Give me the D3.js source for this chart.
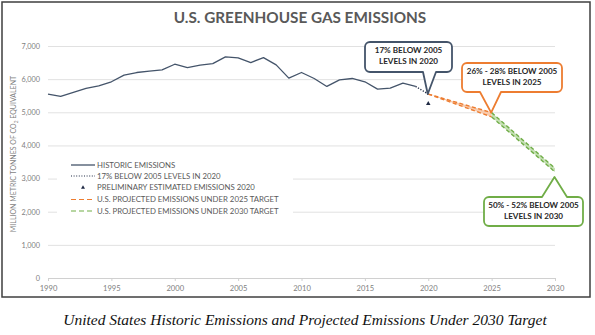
<!DOCTYPE html>
<html><head><meta charset="utf-8">
<script src="https://cdn.jsdelivr.net/npm/d3@7"></script>
<style>
html,body{margin:0;padding:0;background:#fff;}
svg{display:block;}
</style></head>
<body>
<svg id="chart" width="595" height="335"></svg>
<script>
// ---- data ----
const historicYears = [1990,1991,1992,1993,1994,1995,1996,1997,1998,1999,2000,2001,2002,2003,2004,2005,2006,2007,2008,2009,2010,2011,2012,2013,2014,2015,2016,2017,2018,2019];
const historicValues = [5550,5480,5600,5720,5800,5920,6120,6200,6240,6280,6450,6350,6420,6470,6670,6640,6500,6650,6430,6030,6200,6020,5780,5980,6020,5920,5700,5730,5880,5780];
const target2020Years = [2019,2020];
const target2020Values = [5780,5550];
const prelimYear = [2020];
const prelimValue = [5260];
const proj2025Years = [2020,2025];
const proj2025High = [5550,4990];
const proj2025Low = [5550,4860];
const proj2030Years = [2025,2030];
const proj2030High = [4990,3310];
const proj2030Low = [4860,3200];
const xTicks = [1990,1995,2000,2005,2010,2015,2020,2025,2030];
const yTicks = [0,1000,2000,3000,4000,5000,6000,7000];
const legendLabels = ["HISTORIC EMISSIONS","17% BELOW 2005 LEVELS IN 2020","PRELIMINARY ESTIMATED EMISSIONS 2020","U.S. PROJECTED EMISSIONS UNDER 2025 TARGET","U.S. PROJECTED EMISSIONS UNDER 2030 TARGET"];
const titleText = "U.S. GREENHOUSE GAS EMISSIONS";
const captionText = "United States Historic Emissions and Projected Emissions Under 2030 Target";

// ---- layout ----
const svg = d3.select("#chart");
const font = "Lato, 'Open Sans', sans-serif";
const L = 48, R = 555, T = 46, B = 278;
const x = d3.scaleLinear([1990,2030],[L,R]);
const y = d3.scaleLinear([0,7000],[B,T]);

// outer frame
svg.append("rect").attr("x",2).attr("y",2).attr("width",588).attr("height",295)
  .attr("fill","#fff").attr("stroke","#3f3f3f").attr("stroke-width",1.5);

// title
svg.append("text").attr("x",300).attr("y",23).attr("text-anchor","middle")
  .attr("font-family",font).attr("font-weight","bold").attr("font-size",15.3)
  .attr("fill","#595959").text(titleText);

// y axis + grid
const ya = svg.append("g").attr("transform",`translate(${L},0)`)
  .call(d3.axisLeft(y).tickValues(yTicks).tickSize(-(R-L)).tickPadding(8).tickFormat(d3.format(",")));
ya.select(".domain").remove();
ya.selectAll(".tick line").attr("stroke","#d9d9d9").attr("stroke-width",0.8);
ya.selectAll(".tick text").attr("font-family",font).attr("font-size",7.3).attr("fill","#7f7f7f");

// x axis
const xa = svg.append("g").attr("transform",`translate(0,${B})`)
  .call(d3.axisBottom(x).tickValues(xTicks).tickSize(3).tickPadding(5).tickFormat(d3.format("d")));
xa.select(".domain").attr("stroke","#d0d0d0");
xa.selectAll(".tick line").attr("stroke","#d0d0d0");
xa.selectAll(".tick text").attr("font-family",font).attr("font-size",7.6).attr("fill","#7f7f7f");

// y title
const yt = svg.append("text").attr("transform","translate(16,154) rotate(-90)")
  .attr("text-anchor","middle").attr("font-family",font).attr("font-size",7.0).attr("fill","#7f7f7f");
yt.append("tspan").text("MILLION METRIC TONNES OF CO");
yt.append("tspan").attr("font-size",4.8).attr("dy",2).text("2");
yt.append("tspan").attr("dy",-2).text(" EQUIVALENT");

// legend background
svg.append("rect").attr("x",57).attr("y",158).attr("width",236).attr("height",60).attr("fill","#fff");

// projected bands
const area = (xs, hi, lo) => d3.area().x((d,i)=>x(xs[i])).y0((d,i)=>y(lo[i])).y1((d,i)=>y(hi[i]))(xs);
const line = (xs, vs) => d3.line().x((d,i)=>x(xs[i])).y((d,i)=>y(vs[i]))(xs);

svg.append("path").attr("d",area(proj2025Years,proj2025High,proj2025Low)).attr("fill","#f8cbad");
svg.append("path").attr("d",area(proj2030Years,proj2030High,proj2030Low)).attr("fill","#c5e0b4");
[proj2025High,proj2025Low].forEach(v=>svg.append("path").attr("d",line(proj2025Years,v))
  .attr("fill","none").attr("stroke","#ed7d31").attr("stroke-width",1.4).attr("stroke-dasharray","4,2.5"));
[proj2030High,proj2030Low].forEach(v=>svg.append("path").attr("d",line(proj2030Years,v))
  .attr("fill","none").attr("stroke","#70ad47").attr("stroke-width",1.4).attr("stroke-dasharray","4,2.5"));

// historic
svg.append("path").attr("d",line(historicYears,historicValues)).attr("fill","none")
  .attr("stroke","#44546a").attr("stroke-width",1.3).attr("stroke-linejoin","round");
// 17% below dotted
svg.append("path").attr("d",line(target2020Years,target2020Values)).attr("fill","none")
  .attr("stroke","#1f2a44").attr("stroke-width",1.4).attr("stroke-dasharray","1.2,1.6");
// prelim triangle
svg.append("path").attr("d",d3.symbol(d3.symbolTriangle,9)())
  .attr("transform",`translate(${x(prelimYear[0])},${y(prelimValue[0])})`).attr("fill","#1f2a44");

// legend
const lx0 = 71, lx1 = 95, ltx = 97, ly = [165,176,187.5,199.5,211];
const lg = svg.append("g");
lg.append("line").attr("x1",lx0).attr("x2",lx1).attr("y1",ly[0]).attr("y2",ly[0]).attr("stroke","#44546a").attr("stroke-width",1.3);
lg.append("line").attr("x1",lx0).attr("x2",lx1).attr("y1",ly[1]).attr("y2",ly[1]).attr("stroke","#1f2a44").attr("stroke-width",1.2).attr("stroke-dasharray","1,1.6");
lg.append("path").attr("d",d3.symbol(d3.symbolTriangle,7)()).attr("transform",`translate(${(lx0+lx1)/2},${ly[2]})`).attr("fill","#1f2a44");
lg.append("line").attr("x1",lx0).attr("x2",lx1).attr("y1",ly[3]).attr("y2",ly[3]).attr("stroke","#ed7d31").attr("stroke-width",1.1).attr("stroke-dasharray","5,3");
lg.append("line").attr("x1",lx0).attr("x2",lx1).attr("y1",ly[4]).attr("y2",ly[4]).attr("stroke","#70ad47").attr("stroke-width",1.1).attr("stroke-dasharray","5,3");
legendLabels.forEach((t,i)=>lg.append("text").attr("x",ltx).attr("y",ly[i]).attr("dy","0.35em")
  .attr("font-family",font).attr("font-size",7.8).attr("fill","#595959").text(t));

// callouts
function callout(x0,y0,x1,y1,r,bx0,bx1,ax,ay,top){
  const p = d3.path();
  p.moveTo(x0+r,y0);
  if(top){ p.lineTo(bx0,y0); p.lineTo(ax,ay); p.lineTo(bx1,y0); }
  p.lineTo(x1-r,y0); p.arcTo(x1,y0,x1,y0+r,r);
  p.lineTo(x1,y1-r); p.arcTo(x1,y1,x1-r,y1,r);
  if(!top){ p.lineTo(bx1,y1); p.lineTo(ax,ay); p.lineTo(bx0,y1); }
  p.lineTo(x0+r,y1); p.arcTo(x0,y1,x0,y1-r,r);
  p.lineTo(x0,y0+r); p.arcTo(x0,y0,x0+r,y0,r);
  p.closePath();
  return p.toString();
}
const calls = [
  {box:[365,42,452,72], base:[423,436], year:2020, val:5550, dy:0, top:false, col:"#44546a", lines:["17% BELOW 2005","LEVELS IN 2020"]},
  {box:[462,63,562,92], base:[480,501], year:2025, val:4990, dy:0, top:false, col:"#ed7d31", lines:["26% - 28% BELOW 2005","LEVELS IN 2025"]},
  {box:[484,197,583,226], base:[542,567], year:2030, val:3200, dy:5, top:true, col:"#70ad47", lines:["50% - 52% BELOW 2005","LEVELS IN 2030"]}
];
calls.forEach(c=>{
  const [x0,y0,x1,y1]=c.box;
  svg.append("path").attr("d",callout(x0,y0,x1,y1,5,c.base[0],c.base[1],x(c.year)-0.5,y(c.val)+c.dy,c.top))
    .attr("fill","#fff").attr("stroke",c.col).attr("stroke-width",1.8).attr("stroke-linejoin","round");
  c.lines.forEach((t,i)=>svg.append("text").attr("x",(x0+x1)/2).attr("y",y0+10+i*11.5).attr("dy","0.1em")
    .attr("text-anchor","middle").attr("font-family",font).attr("font-weight","bold").attr("font-size",8.1)
    .attr("fill","#262626").text(t));
});

// caption
svg.append("text").attr("x",305).attr("y",325).attr("text-anchor","middle")
  .attr("font-family","'Liberation Serif','DejaVu Serif',serif").attr("font-style","italic").attr("font-size",15.5)
  .attr("fill","#111").text(captionText);
</script>
</body></html>
